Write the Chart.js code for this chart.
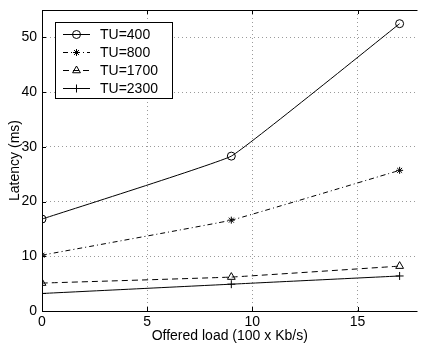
<!DOCTYPE html>
<html>
<head>
<meta charset="utf-8">
<script src="https://cdn.jsdelivr.net/npm/chart.js@4/dist/chart.umd.min.js"></script>
<style>
  html, body { margin: 0; padding: 0; background: #fff; }
  #chart { display: block; }
</style>
</head>
<body>
<canvas id="chart" width="423" height="346"></canvas>
<script>
// Offered load (100 x Kb/s)
const loads = [0, 9, 17];
// Latency (ms) per TU setting
const tu400 = [16.8, 28.3, 52.5];
const tu800 = [10.2, 16.6, 25.7];
const tu1700 = [5.1, 6.2, 8.2];
const tu2300 = [3.2, 4.9, 6.4];
const seriesLabels = ["TU=400", "TU=800", "TU=1700", "TU=2300"];
const xTicks = [0, 5, 10, 15];
const yTicks = [0, 10, 20, 30, 40, 50];

const FONT = '"Liberation Sans", Arial, Helvetica, sans-serif';
Chart.defaults.font.family = FONT;
Chart.defaults.font.size = 14;
Chart.defaults.color = "#000";

let toPoints = (vals) => vals.map((v, i) => ({ x: loads[i], y: v })),
    makeSet = (label, vals, style, radius, dash) => ({
        label: label,
        data: toPoints(vals),
        borderColor: "#000",
        backgroundColor: "rgba(0,0,0,0)",
        borderWidth: 1,
        borderDash: dash,
        pointStyle: style,
        pointRadius: radius,
        pointBorderColor: "#000",
        pointBackgroundColor: "rgba(0,0,0,0)",
        pointBorderWidth: 1,
        tension: 0.07,
        fill: false
    });

// axes box, inward tick marks and boxed legend, drawn the matlab way
const framePlugin = {
    id: "frame",
    afterDraw(chart) {
        const { ctx, chartArea: a, scales: { x, y } } = chart;
        ctx.save();
        ctx.strokeStyle = "#000";
        ctx.lineWidth = 1;
        ctx.setLineDash([]);
        ctx.beginPath();
        ctx.moveTo(a.left + 0.5, a.top + 0.5);
        ctx.lineTo(a.left + 0.5, a.bottom + 0.5);
        ctx.lineTo(a.right, a.bottom + 0.5);
        ctx.moveTo(a.left, a.top + 0.5);
        ctx.lineTo(a.right, a.top + 0.5);
        for (const t of x.ticks) {
            const px = Math.round(x.getPixelForValue(t.value)) + 0.5;
            ctx.moveTo(px, a.bottom); ctx.lineTo(px, a.bottom - 4);
            ctx.moveTo(px, a.top); ctx.lineTo(px, a.top + 4);
        }
        for (const t of y.ticks) {
            const py = Math.round(y.getPixelForValue(t.value)) + 0.5;
            ctx.moveTo(a.left, py); ctx.lineTo(a.left + 4, py);
        }
        ctx.stroke();

        // legend
        const bx = 55.5, by = 22.5, bw = 117, bh = 76;
        ctx.fillStyle = "#fff";
        ctx.fillRect(bx, by, bw, bh);
        ctx.strokeRect(bx, by, bw, bh);
        ctx.font = "14px " + FONT;
        ctx.textBaseline = "middle";
        chart.data.datasets.forEach((ds, i) => {
            const ry = Math.round(34 + i * 18) + 0.5;
            ctx.strokeStyle = "#000";
            ctx.setLineDash(ds.borderDash || []);
            ctx.beginPath();
            ctx.moveTo(63, ry); ctx.lineTo(90, ry);
            ctx.stroke();
            ctx.setLineDash([]);
            ctx.fillStyle = "rgba(0,0,0,0)";
            Chart.helpers.drawPoint(ctx, { pointStyle: ds.pointStyle, radius: ds.pointRadius, rotation: 0, borderWidth: 1 }, 76.5, ry);
            ctx.fillStyle = "#000";
            ctx.fillText(ds.label, 100, ry + 1);
        });
        ctx.restore();
    }
};

const gridColor = (c) => c.tick && c.tick.value !== 0 ? "#9a9a9a" : "rgba(0,0,0,0)";
const noPad = (s) => { s.paddingTop = 0; s.paddingBottom = 0; s.paddingLeft = 0; s.paddingRight = 0; };

new Chart(document.getElementById("chart"), {
    type: "line",
    data: {
        datasets: [
            makeSet(seriesLabels[0], tu400, "circle", 4, []),
            makeSet(seriesLabels[1], tu800, "star", 3.5, [5, 3, 1, 3]),
            makeSet(seriesLabels[2], tu1700, "triangle", 4.5, [6, 4]),
            makeSet(seriesLabels[3], tu2300, "cross", 4, [])
        ]
    },
    options: {
        responsive: false,
        animation: false,
        layout: { padding: { top: 10, right: 0, left: 0, bottom: 0 } },
        plugins: { legend: { display: false }, tooltip: { enabled: false } },
        scales: {
            x: {
                type: "linear",
                min: 0,
                max: 17.85,
                afterBuildTicks: (s) => { s.ticks = xTicks.map(v => ({ value: v })); },
                afterFit: (s) => { s.height = 35; noPad(s); },
                ticks: { padding: 3, includeBounds: false, font: { size: 14 } },
                grid: { color: gridColor, drawTicks: false },
                border: { display: false, dash: [1, 3] },
                title: { display: true, text: "Offered load (100 x Kb/s)", padding: { top: 0, bottom: 1 }, font: { size: 14 } }
            },
            y: {
                min: 0,
                max: 55,
                afterBuildTicks: (s) => { s.ticks = yTicks.map(v => ({ value: v })); },
                afterFit: (s) => { s.width = 42; noPad(s); },
                ticks: { padding: 5, includeBounds: false, font: { size: 14 } },
                grid: { color: gridColor, drawTicks: false },
                border: { display: false, dash: [1, 3] },
                title: { display: true, text: "Latency (ms)", padding: { top: 7, bottom: 0 }, font: { size: 14 } }
            }
        }
    },
    plugins: [framePlugin]
});
</script>
</body>
</html>
